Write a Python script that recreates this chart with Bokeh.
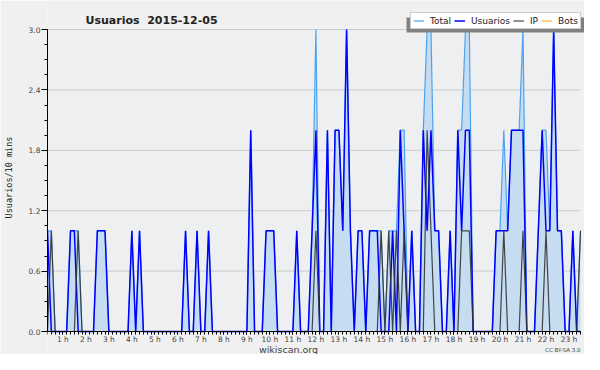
from bokeh.plotting import figure
from bokeh.models import (FixedTicker, Range1d, Legend, LegendItem, Label, BoxAnnotation)
from bokeh.embed import file_html
from bokeh.resources import INLINE

# ---- data (10-minute buckets starting at 00:20) ----
start_hour = 20 / 60
step_hour = 10 / 60

usuarios = [
    1, 0, 0, 0, 0, 0, 1, 1, 0, 0,
    0, 0, 0, 1, 1, 1, 0, 0, 0, 0,
    0, 0, 1, 0, 1, 0, 0, 0, 0, 0,
    0, 0, 0, 0, 0, 0, 1, 0, 0, 1,
    0, 0, 1, 0, 0, 0, 0, 0, 0, 0,
    0, 0, 0, 2, 0, 0, 0, 1, 1, 1,
    0, 0, 0, 0, 0, 1, 0, 0, 0, 1,
    2, 0, 0, 2, 0, 2, 2, 1, 3, 1,
    0, 1, 1, 0, 1, 1, 1, 0, 0, 0,
    1, 0, 2, 1, 0, 1, 0, 0, 2, 1,
    2, 1, 1, 0, 0, 1, 0, 2, 1, 2,
    2, 0, 0, 0, 0, 0, 0, 1, 1, 1,
    1, 2, 2, 2, 2, 0, 0, 0, 1, 2,
    1, 1, 3, 1, 1, 0, 0, 1, 0, 0,
]

ip = [
    0, 1, 0, 0, 0, 0, 0, 0, 1, 0,
    0, 0, 0, 0, 0, 0, 0, 0, 0, 0,
    0, 0, 0, 0, 0, 0, 0, 0, 0, 0,
    0, 0, 0, 0, 0, 0, 0, 0, 0, 0,
    0, 0, 0, 0, 0, 0, 0, 0, 0, 0,
    0, 0, 0, 0, 0, 0, 0, 0, 0, 0,
    0, 0, 0, 0, 0, 0, 0, 0, 0, 0,
    1, 0, 0, 0, 0, 0, 0, 0, 0, 0,
    0, 0, 0, 0, 0, 0, 0, 1, 0, 1,
    0, 1, 0, 1, 0, 0, 0, 0, 0, 2,
    1, 0, 0, 0, 0, 0, 0, 0, 1, 1,
    1, 0, 0, 0, 0, 0, 0, 0, 0, 1,
    0, 0, 0, 0, 1, 0, 0, 0, 0, 0,
    1, 0, 0, 0, 0, 0, 0, 0, 0, 1,
]

total = [
    1, 1, 0, 0, 0, 0, 1, 1, 1, 0,
    0, 0, 0, 1, 1, 1, 0, 0, 0, 0,
    0, 0, 1, 0, 1, 0, 0, 0, 0, 0,
    0, 0, 0, 0, 0, 0, 1, 0, 0, 1,
    0, 0, 1, 0, 0, 0, 0, 0, 0, 0,
    0, 0, 0, 2, 0, 0, 0, 1, 1, 1,
    0, 0, 0, 0, 0, 1, 0, 0, 0, 1,
    3, 0, 0, 2, 0, 2, 2, 1, 3, 1,
    0, 1, 1, 0, 1, 1, 1, 1, 0, 1,
    1, 1, 2, 2, 0, 1, 0, 0, 2, 3,
    3, 1, 1, 0, 0, 1, 0, 2, 2, 3,
    3, 0, 0, 0, 0, 0, 0, 1, 1, 2,
    1, 2, 2, 2, 3, 0, 0, 0, 1, 2,
    2, 1, 3, 1, 1, 0, 0, 1, 0, 1,
]

bots = [0] * len(total)

hour_ticks = list(range(1, 24))
hour_labels = [f"{h} h" for h in hour_ticks]
y_ticks = [0.0, 0.6, 1.2, 1.8, 2.4, 3.0]
y_labels = ["0.0", "0.6", "1.2", "1.8", "2.4", "3.0"]
y_max = 3.0

hours = [start_hour + i * step_hour for i in range(len(total))]

# ---- layout (pixels) ----
W, H = 584, 354
LEFT = 46          # frame left (y axis)
PLOT_R = 580       # right edge of plot area
PLOT_T = 29        # pixel of y = 3.0
PLOT_B = 331       # pixel of y = 0

px_per_h = (PLOT_R - LEFT) / (hours[-1] - hours[0])
px_per_y = (PLOT_B - PLOT_T) / y_max
x_end = hours[-1] + (W - PLOT_R) / px_per_h
y_start = -(H - PLOT_B) / px_per_y
y_end = y_max + PLOT_T / px_per_y

FONT = "DejaVu Sans"

p = figure(width=W, height=H, output_backend="svg", toolbar_location=None, title=None,
           x_range=Range1d(hours[0], x_end), y_range=Range1d(y_start, y_end),
           min_border_left=LEFT, min_border_right=0, min_border_top=0, min_border_bottom=0)

p.background_fill_color = "#f0f0f0"
p.border_fill_color = "#f0f0f0"
p.outline_line_color = None
p.xgrid.visible = False
p.ygrid.visible = False

# plot-area background and horizontal grid
p.add_layout(BoxAnnotation(left=hours[0], right=hours[-1], bottom=0, top=y_max,
                           fill_color="#eeeff1", fill_alpha=1, line_color=None,
                           level="image"))
p.segment(x0=[hours[0]] * len(y_ticks), x1=[hours[-1]] * len(y_ticks),
          y0=y_ticks, y1=y_ticks, line_color="#cccccc", line_width=1, level="underlay")

# axes
p.xaxis.fixed_location = 0
p.xaxis.bounds = (hours[0], hours[-1])
p.xaxis.ticker = FixedTicker(ticks=hour_ticks, minor_ticks=hours)
p.xaxis.major_label_overrides = dict(zip(hour_ticks, hour_labels))
p.yaxis.bounds = (0, y_max)
p.yaxis.ticker = FixedTicker(ticks=y_ticks, minor_ticks=[i * 0.15 for i in range(21)])
p.yaxis.major_label_overrides = dict(zip(y_ticks, y_labels))

for ax in (p.xaxis[0], p.yaxis[0]):
    ax.axis_line_color = "black"
    ax.major_tick_line_color = "black"
    ax.minor_tick_line_color = "black"
    ax.major_tick_in = 0
    ax.minor_tick_in = 0
    ax.major_label_text_font = FONT
    ax.major_label_text_font_size = "7.5px"
    ax.major_label_text_color = "#444444"

p.xaxis.major_tick_out = 3
p.xaxis.minor_tick_out = 3
p.xaxis.major_label_standoff = 0
p.yaxis.major_tick_out = 6
p.yaxis.minor_tick_out = 3
p.yaxis.major_label_standoff = 1

p.yaxis.axis_label = "Usuarios/10 mins"
p.yaxis.axis_label_text_font = "DejaVu Sans Mono"
p.yaxis.axis_label_text_font_size = "8.5px"
p.yaxis.axis_label_text_font_style = "normal"
p.yaxis.axis_label_text_color = "#222222"
p.yaxis.axis_label_standoff = 12

# series
p.varea(x=hours, y1=0, y2=total, fill_color="#c6dcf0")
r_bots = p.line(hours, bots, line_color="#ffa500", line_width=1)
r_total = p.line(hours, total, line_color="#4aa3f0", line_width=1.2)
r_users = p.line(hours, usuarios, line_color="#0000ff", line_width=1.5)
r_ip = p.line(hours, ip, line_color="#333333", line_width=1.2, line_alpha=0.9)

# title
p.add_layout(Label(x=85, y=20, x_units="canvas", y_units="canvas",
                   text="Usuarios\u00a0 2015-12-05", text_align="left",
                   text_baseline="alphabetic", text_font=FONT, text_font_size="11px",
                   text_font_style="bold", text_color="#222222"))

# legend shadow + legend
LEG_W, LEG_H = 172, 15
leg_left = PLOT_R + 1 - LEG_W
p.add_layout(BoxAnnotation(left=leg_left - 3, right=W, top=PLOT_T - LEG_H + 3, bottom=PLOT_T + 3,
                           left_units="canvas", right_units="canvas",
                           top_units="canvas", bottom_units="canvas",
                           fill_color="#808080", fill_alpha=1, line_color=None))

legend = Legend(items=[LegendItem(label="Total", renderers=[r_total]),
                       LegendItem(label="Usuarios", renderers=[r_users]),
                       LegendItem(label="IP", renderers=[r_ip]),
                       LegendItem(label="Bots", renderers=[r_bots])],
                orientation="horizontal", location=(leg_left - LEFT, H - PLOT_T),
                label_text_font=FONT, label_text_font_size="9px",
                label_text_color="#222222",
                glyph_width=11, glyph_height=11, label_height=11, label_width=0,
                label_standoff=6, spacing=3, padding=2, margin=0,
                border_line_color="#999999", background_fill_color="white",
                background_fill_alpha=1)
p.add_layout(legend)

# footers
p.add_layout(Label(x=288, y=349, x_units="canvas", y_units="canvas",
                   text="wikiscan.org", text_align="center", text_baseline="alphabetic",
                   text_font=FONT, text_font_size="9.5px", text_color="#444444"))
p.add_layout(Label(x=PLOT_R, y=349, x_units="canvas", y_units="canvas",
                   text="CC BY-SA 3.0", text_align="right", text_baseline="alphabetic",
                   text_font=FONT, text_font_size="5.5px", text_color="#444444"))

open("out.html", "w").write(file_html(p, INLINE))
